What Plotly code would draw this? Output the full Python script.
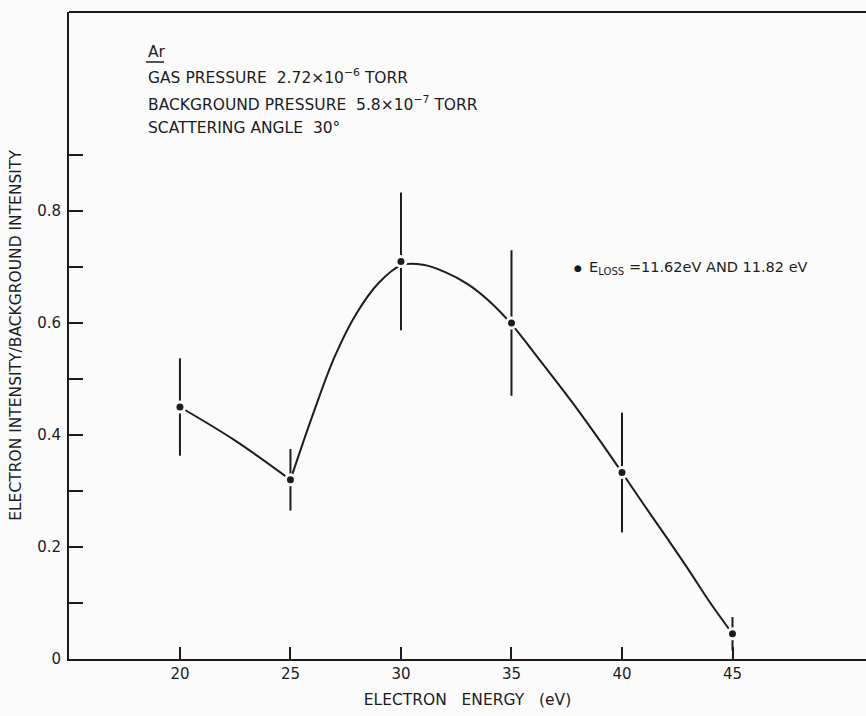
import plotly.graph_objects as go

# Measured ratio of electron intensity to background intensity
energy_ev = [20, 25, 30, 35, 40, 45]
intensity_ratio = [0.45, 0.32, 0.71, 0.60, 0.333, 0.045]
ratio_error = [0.087, 0.055, 0.123, 0.13, 0.107, 0.03]

# Hand-drawn guide curve through the data (two pieces, kinked at 25 eV)
guide_low_x = [20, 22.5, 25]
guide_low_y = [0.45, 0.39, 0.32]
guide_high_x = [25, 26, 27, 28, 29, 30, 31, 32, 33, 34, 35, 36, 37, 38, 39, 40, 41, 42, 43, 44, 45]
guide_high_y = [0.32, 0.435, 0.54, 0.618, 0.672, 0.703, 0.704, 0.691, 0.670, 0.639, 0.598,
                0.548, 0.497, 0.445, 0.39, 0.333, 0.275, 0.218, 0.16, 0.10, 0.045]

x_ticks = [20, 25, 30, 35, 40, 45]
y_ticks = [0, 0.1, 0.2, 0.3, 0.4, 0.5, 0.6, 0.7, 0.8, 0.9]
y_tick_text = ["0", "", "0.2", "", "0.4", "", "0.6", "", "0.8", ""]

INK = "#1c1c1c"
PAPER = "#fbfbfb"
FONT = "DejaVu Sans"

fig = go.Figure()

for gx, gy in ((guide_low_x, guide_low_y), (guide_high_x, guide_high_y)):
    fig.add_trace(go.Scatter(
        x=gx, y=gy, mode="lines",
        line=dict(color=INK, width=2, shape="spline", smoothing=1.0),
        showlegend=False, hoverinfo="skip",
    ))

fig.add_trace(go.Scatter(
    x=energy_ev, y=intensity_ratio, mode="markers",
    marker=dict(color=INK, size=10, line=dict(color=PAPER, width=3)),
    error_y=dict(type="data", array=ratio_error, thickness=2, width=0, color=INK),
    showlegend=False,
))

header_lines = [
    ("Ar", 52),
    ("GAS PRESSURE  2.72×10<sup>−6</sup> TORR", 77),
    ("BACKGROUND PRESSURE  5.8×10<sup>−7</sup> TORR", 103),
    ("SCATTERING ANGLE  30°", 128),
]

PLOT_L, PLOT_R, PLOT_T, PLOT_B = 69, 866, 12, 659
pw, ph = PLOT_R - PLOT_L, PLOT_B - PLOT_T

def px_x(px):
    return (px - PLOT_L) / pw

def px_y(py):
    return (PLOT_B - py) / ph

annotations = []
for text, ypx in header_lines:
    annotations.append(dict(
        text=text, x=px_x(146), y=px_y(ypx), xref="paper", yref="paper",
        xanchor="left", yanchor="middle", showarrow=False,
        font=dict(family=FONT, size=15.5, color=INK),
    ))

# key for the plotted points
annotations.append(dict(
    text="\u25cf", x=px_x(578), y=px_y(268), xref="paper", yref="paper",
    xanchor="center", yanchor="middle", showarrow=False,
    font=dict(family=FONT, size=9, color=INK),
))
annotations.append(dict(
    text="E<sub>LOSS</sub> =11.62eV AND 11.82 eV",
    x=px_x(587), y=px_y(268), xref="paper", yref="paper",
    xanchor="left", yanchor="middle", showarrow=False,
    font=dict(family=FONT, size=14.5, color=INK),
))

fig.update_layout(
    width=866, height=716,
    margin=dict(l=PLOT_L, r=0, t=PLOT_T, b=716 - PLOT_B),
    paper_bgcolor=PAPER, plot_bgcolor=PAPER,
    font=dict(family=FONT, color=INK),
    annotations=annotations,
    showlegend=False,
    shapes=[
        # top frame line of the plot box
        dict(type="line", xref="paper", yref="paper", x0=0, x1=1, y0=1, y1=1,
             line=dict(color=INK, width=2)),
        # underline of the gas symbol
        dict(type="line", xref="paper", yref="paper",
             x0=px_x(146), x1=px_x(164), y0=px_y(62), y1=px_y(62),
             line=dict(color=INK, width=1.5)),
    ],
    xaxis=dict(
        range=[14.98, 51.04], tickvals=x_ticks, ticks="inside", ticklen=12,
        tickwidth=2, tickcolor=INK, showline=True, linewidth=2, linecolor=INK,
        mirror=False, showgrid=False, zeroline=False,
        tickfont=dict(family=FONT, size=15, color=INK),
        title=dict(text="ELECTRON\u00a0\u00a0 ENERGY\u00a0\u00a0 (eV)", standoff=12,
                   font=dict(family=FONT, size=15.5, color=INK)),
    ),
    yaxis=dict(
        range=[0, 1.1554], tickvals=y_ticks, ticktext=y_tick_text, ticks="inside",
        ticklen=14, tickwidth=2, tickcolor=INK, showline=True, linewidth=2,
        linecolor=INK, showgrid=False, zeroline=False, ticklabelstandoff=3,
        mirror=False, tickfont=dict(family=FONT, size=15, color=INK),
        title=dict(text="ELECTRON INTENSITY/BACKGROUND INTENSITY", standoff=12,
                   font=dict(family=FONT, size=15.5, color=INK)),
    ),
)

fig.write_html("out.html")
